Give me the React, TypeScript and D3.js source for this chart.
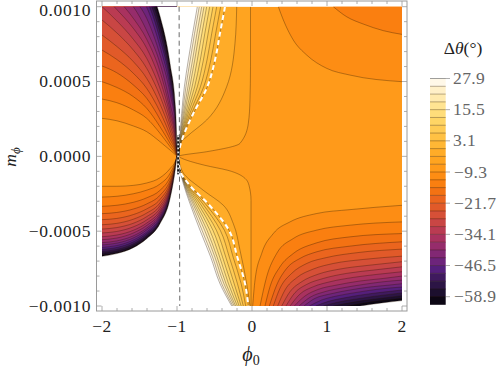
import React from "react";
import * as d3 from "d3";

// Contour levels, highest first (index i). Bands lie between level i and i+1.
const LEVELS = [27.9,24.8,21.7,18.6,15.5,12.4,9.3,6.2,3.1,0,-3.1,-6.2,-9.3,-12.4,-15.5,-18.6,-21.7,-24.8,-27.9,-31,-34.1,-37.2,-40.3,-43.4,-46.5,-49.6,-52.7,-55.8,-58.9,-62];
const BAND_COLORS = ["#fff8e8","#fff0c8","#ffeaae","#ffe492","#ffdd7a","#ffd565","#ffcb54","#ffc144","#ffb735","#ffac28","#ffa420","#ff9a1a","#fd8d14","#fa7f10","#f37213","#eb651e","#e15a29","#d65037","#c94644","#ba3b52","#a9325f","#962c6b","#822874","#6d247b","#551f7c","#3f1a5e","#2c1545","#1c0f2e","#0c0614"];
const LEGEND_LABELS = [27.9,15.5,3.1,-9.3,-21.7,-34.1,-46.5,-58.9];
const X_TICKS = [-2,-1,0,1,2];
const Y_TICKS = [0.001,0.0005,0,-0.0005,-0.001];

// Upper-left fan: m (units 1e-4) at these phi columns, levels -9.3 ... -62
const LEFT_PHI = [-2,-1.804,-1.582,-1.404,-1.227,-1.093,-1.018,-1.0];
const UPPER_LEFT = [
  [2.54,2.38,2.03,1.65,0.98,0.42,0.09,0],
  [3.83,3.59,3.10,2.54,1.54,0.65,0.16,0],
  [4.99,4.61,3.99,3.21,1.98,0.87,0.24,0],
  [6.04,5.59,4.77,3.88,2.47,1.14,0.33,0.02],
  [7.10,6.48,5.55,4.54,2.98,1.43,0.42,0.04],
  [8.11,7.35,6.33,5.21,3.50,1.76,0.53,0.06],
  [9.11,8.26,7.10,5.88,4.03,2.09,0.69,0.08],
  [10.0,9.06,7.82,6.55,4.54,2.43,0.87,0.1],
  [10.85,9.82,8.55,7.22,5.10,2.76,1.05,0.14],
  [11.56,10.56,9.22,7.82,5.67,3.09,1.20,0.18],
  [12.12,11.11,10.0,8.40,6.21,3.50,1.43,0.22],
  [12.7,11.6,10.56,9.22,6.77,4.21,1.80,0.26],
  [13.3,12.2,11.22,9.96,7.33,4.61,2.03,0.3],
  [13.8,12.8,11.78,10.45,7.82,4.99,2.25,0.36],
  [14.3,13.2,12.23,10.85,8.26,5.32,2.47,0.42],
  [14.8,13.7,12.67,11.16,8.66,5.66,2.69,0.48],
  [15.2,14.0,13.0,11.38,9.02,5.88,2.92,0.54],
  [15.6,14.4,13.34,11.56,9.38,6.21,3.10,0.6],
];
// Lower-left fan: |m| (units 1e-4) at the same columns, levels -9.3 ... -62
const LOWER_LEFT = [
  [2.0,2.0,1.94,1.78,1.43,0.82,0.27,0],
  [2.72,2.67,2.50,2.26,1.85,1.14,0.30,0],
  [3.34,3.27,3.07,2.77,2.27,1.40,0.37,0],
  [3.83,3.75,3.52,3.18,2.60,1.61,0.42,0],
  [4.23,4.15,3.89,3.51,2.88,1.78,0.47,0],
  [4.57,4.48,4.20,3.79,3.11,1.92,0.50,0],
  [4.86,4.76,4.47,4.03,3.30,2.04,0.53,0],
  [5.12,5.02,4.71,4.25,3.48,2.15,0.56,0],
  [5.37,5.26,4.94,4.46,3.65,2.26,0.59,0],
  [5.57,5.46,5.12,4.62,3.79,2.34,0.61,0],
  [5.77,5.65,5.31,4.79,3.92,2.42,0.63,0],
  [5.92,5.80,5.45,4.91,4.03,2.49,0.65,0],
  [6.08,5.96,5.59,5.05,4.13,2.55,0.67,0],
  [6.21,6.09,5.71,5.15,4.22,2.61,0.68,0],
  [6.35,6.22,5.84,5.27,4.32,2.67,0.70,0],
  [6.46,6.33,5.94,5.36,4.39,2.71,0.71,0],
  [6.57,6.44,6.04,5.45,4.47,2.76,0.72,0],
  [6.68,6.50,6.10,5.50,4.50,2.83,0.71,0],
];

// Middle wedge, upper half: phi at these m rows, levels 27.9 ... 0
const UPPER_MID_M = [10,8.22,6.44,4.65,2.87,1.54,0.65,0];
const UPPER_MID = [
  [-0.729,-0.791,-0.849,-0.902,-0.938,-0.96,-0.973,-0.982],
  [-0.703,-0.766,-0.824,-0.881,-0.927,-0.956,-0.972,-0.982],
  [-0.671,-0.734,-0.793,-0.854,-0.914,-0.951,-0.971,-0.982],
  [-0.640,-0.704,-0.764,-0.829,-0.901,-0.946,-0.97,-0.982],
  [-0.605,-0.668,-0.729,-0.799,-0.885,-0.94,-0.969,-0.982],
  [-0.564,-0.629,-0.690,-0.765,-0.868,-0.934,-0.967,-0.982],
  [-0.52,-0.585,-0.648,-0.729,-0.85,-0.927,-0.966,-0.982],
  [-0.471,-0.537,-0.60,-0.688,-0.829,-0.919,-0.964,-0.982],
  [-0.418,-0.484,-0.549,-0.644,-0.806,-0.911,-0.962,-0.982],
  [-0.36,-0.427,-0.493,-0.596,-0.782,-0.902,-0.96,-0.982],
];
// Middle wedge, lower half: phi at these m rows, levels 27.9 ... 0
const LOWER_MID_M = [0,-0.94,-1.83,-3.16,-4.94,-6.73,-8.51,-10];
const LOWER_MID = [
  [-0.982,-0.96,-0.916,-0.827,-0.693,-0.551,-0.427,-0.271],
  [-0.982,-0.96,-0.911,-0.810,-0.666,-0.526,-0.404,-0.255],
  [-0.982,-0.96,-0.905,-0.789,-0.632,-0.495,-0.375,-0.236],
  [-0.982,-0.96,-0.9,-0.769,-0.600,-0.466,-0.347,-0.218],
  [-0.982,-0.96,-0.893,-0.746,-0.563,-0.431,-0.314,-0.196],
  [-0.982,-0.96,-0.886,-0.720,-0.521,-0.393,-0.278,-0.172],
  [-0.982,-0.96,-0.878,-0.691,-0.475,-0.350,-0.238,-0.145],
  [-0.982,-0.96,-0.869,-0.659,-0.423,-0.303,-0.194,-0.116],
  [-0.982,-0.96,-0.859,-0.625,-0.368,-0.252,-0.145,-0.084],
  [-0.982,-0.96,-0.849,-0.587,-0.307,-0.196,-0.093,-0.049],
];
// Contours -6.2 and -3.1 in the wedge, [phi, m]
const UP_M62 = [[-0.02,10],[-0.02,5.99],[-0.027,3.76],[-0.049,2.2],[-0.16,0.87],[-0.604,0.31],[-0.96,0.045],[-0.982,0]];
const UP_M31 = [[-0.204,10],[-0.227,7.55],[-0.338,4.65],[-0.604,2.43],[-0.871,1.31],[-0.96,0.87],[-0.982,0]];
const LOW_M62 = [[-0.982,0],[-0.96,-0.07],[-0.627,-0.6],[-0.32,-0.935],[-0.093,-1.47],[-0.04,-1.94],[-0.013,-2.94],[-0.013,-10]];
const LOW_M31 = [[-0.982,0],[-0.924,-1.05],[-0.649,-2.27],[-0.382,-3.27],[-0.249,-4.5],[-0.16,-6.28],[-0.071,-8.51],[-0.027,-10]];

// Right side, upper: levels -9.3 and -12.4, [phi, m]
const UPPER_RIGHT = [
  [[0.351,10],[0.418,9.11],[0.551,7.77],[0.729,6.77],[0.996,5.88],[1.307,5.43],[2,4.99]],
  [[1.084,10],[1.262,9.33],[1.484,8.84],[1.751,8.4],[2,8.15]],
];
// Right side, lower: levels -9.3 ... -62, [phi, m]
const LOWER_RIGHT = [
  [[0.009,-10],[0.04,-8.27],[0.129,-6.49],[0.284,-5.16],[0.507,-4.38],[0.862,-3.82],[1.307,-3.56],[2,-3.27]],
  [[0.107,-10],[0.196,-8.04],[0.329,-6.49],[0.551,-5.49],[0.862,-4.93],[1.307,-4.6],[2,-4.38]],
  [[0.173,-10],[0.24,-8.71],[0.373,-7.38],[0.551,-6.49],[0.862,-5.78],[1.307,-5.38],[2,-5.16]],
  [[0.231,-10],[0.329,-8.6],[0.462,-7.49],[0.64,-6.82],[0.862,-6.38],[1.307,-6],[2,-5.71]],
  [[0.284,-10],[0.373,-8.82],[0.529,-7.82],[0.729,-7.16],[0.996,-6.76],[1.396,-6.44],[2,-6.2]],
  [[0.342,-10],[0.44,-8.93],[0.596,-8.11],[0.818,-7.53],[1.084,-7.16],[1.484,-6.89],[2,-6.67]],
  [[0.396,-10],[0.507,-9.04],[0.662,-8.38],[0.884,-7.87],[1.173,-7.53],[1.573,-7.27],[2,-7.04]],
  [[0.453,-10],[0.573,-9.11],[0.729,-8.56],[0.951,-8.16],[1.262,-7.82],[1.618,-7.6],[2,-7.38]],
  [[0.507,-10],[0.64,-9.2],[0.818,-8.71],[1.04,-8.38],[1.351,-8.09],[1.662,-7.89],[2,-7.71]],
  [[0.564,-10],[0.707,-9.33],[0.884,-8.89],[1.129,-8.6],[1.44,-8.33],[1.751,-8.16],[2,-8]],
  [[0.627,-10],[0.773,-9.42],[0.973,-9.04],[1.218,-8.78],[1.484,-8.56],[1.751,-8.38],[2,-8.27]],
  [[0.693,-10],[0.84,-9.49],[1.04,-9.2],[1.307,-8.93],[1.573,-8.73],[1.796,-8.62],[2,-8.51]],
  [[0.764,-10],[0.929,-9.6],[1.129,-9.33],[1.396,-9.09],[1.662,-8.89],[2,-8.73]],
  [[0.849,-10],[1.018,-9.69],[1.218,-9.47],[1.484,-9.24],[1.751,-9.07],[2,-8.93]],
  [[0.951,-10],[1.129,-9.76],[1.351,-9.56],[1.618,-9.36],[2,-9.13]],
  [[1.084,-10],[1.262,-9.82],[1.484,-9.64],[1.751,-9.47],[2,-9.31]],
  [[1.262,-10],[1.484,-9.8],[1.751,-9.62],[2,-9.49]],
  [[1.44,-10],[1.751,-9.78],[2,-9.64]],
];

const W = 498, H = 367;
const x = d3.scaleLinear().domain([-2, 2]).range([102, 402]);
const y = d3.scaleLinear().domain([-10, 10]).range([306, 6.7]);
const legendY = d3.scaleLinear().domain([27.9, -58.9]).range([78.5, 296.7]);
const FRAME = { l: 96.5, r: 407, t: 1, b: 311 };
const LINE = "rgba(40,20,0,0.42)";
const SERIF = "'Liberation Serif', serif";
const fmtY = (v: number) => (v < 0 ? "\u2212" : "") + Math.abs(v).toFixed(4);
const fmtN = (v: number) => (v < 0 ? "\u2212" : "") + Math.abs(v).toString();
const fillFor = (i: number) => (i < 0 ? "#ffffff" : i >= BAND_COLORS.length ? "#ffffff" : BAND_COLORS[i]);
const IDX = (v: number) => LEVELS.indexOf(v);

type P = number[];
const lineX = d3.line<P>().x(d => x(d[0])).y(d => y(d[1])).curve(d3.curveMonotoneX);
const lineY = d3.line<P>().x(d => x(d[0])).y(d => y(d[1])).curve(d3.curveMonotoneY);
const areaTo = (edge: number) => d3.area<P>().x(d => x(d[0])).y0(d => y(d[1])).y1(y(edge)).curve(d3.curveMonotoneX);
const areaLeft = d3.area<P>().y(d => y(d[1])).x0(x(-1)).x1(d => x(d[0])).curve(d3.curveMonotoneY);

function Band({ fill, area, line }: { fill: string; area: string; line: string }) {
  return (
    <g>
      <path d={area} fill={fill} />
      <path d={line} fill="none" stroke={LINE} strokeWidth={0.8} />
    </g>
  );
}

export default function App() {
  const xMinor = d3.range(-2, 2.001, 0.2);
  const yMinor = d3.range(-10, 10.001, 1);
  const leftLevels = LEVELS.slice(IDX(-9.3));
  const wedgeUp = UPPER_MID.map(r => r.map((p, i) => [p, UPPER_MID_M[i]]));
  const wedgeLow = LOWER_MID.map(r => r.map((p, i) => [p, LOWER_MID_M[i]]));
  const midLevels = LEVELS.slice(0, IDX(0) + 1);
  const bands: React.ReactNode[] = [];

  leftLevels.forEach((lv, k) => {
    const i = IDX(lv);
    const up = LEFT_PHI.map((p, j) => [p, UPPER_LEFT[k][j]]);
    const low = LEFT_PHI.map((p, j) => [p, -LOWER_LEFT[k][j]]);
    bands.push(<Band key={"ul" + k} fill={fillFor(i)} area={areaTo(11)(up)!} line={lineX(up)!} />);
    bands.push(<Band key={"ll" + k} fill={fillFor(i)} area={areaTo(-11)(low)!} line={lineX(low)!} />);
    bands.push(<Band key={"lr" + k} fill={fillFor(i)} area={areaTo(-11)(LOWER_RIGHT[k])!} line={lineX(LOWER_RIGHT[k])!} />);
  });
  UPPER_RIGHT.forEach((c, k) => {
    bands.push(<Band key={"ur" + k} fill={fillFor(IDX(-9.3) + k)} area={areaTo(11)(c)!} line={lineX(c)!} />);
  });
  ([[-6.2, UP_M62, LOW_M62], [-3.1, UP_M31, LOW_M31]] as [number, P[], P[]][]).forEach(([lv, u, l]) => {
    const i = IDX(lv) - 1;
    bands.push(<Band key={"wu" + lv} fill={fillFor(i)} area={areaLeft(u)!} line={lineY(u)!} />);
    bands.push(<Band key={"wl" + lv} fill={fillFor(i)} area={areaLeft(l)!} line={lineY(l)!} />);
  });
  midLevels.slice().reverse().forEach(lv => {
    const i = IDX(lv);
    const u = wedgeUp[i], l = wedgeLow[i];
    bands.push(<Band key={"mu" + lv} fill={fillFor(i - 1)} area={areaLeft(u)!} line={lineY(u)!} />);
    bands.push(<Band key={"ml" + lv} fill={fillFor(i - 1)} area={areaLeft(l)!} line={lineY(l)!} />);
  });

  return (
    <svg width={W} height={H} style={{ position: "absolute", left: 0, top: 0 }} fontFamily={SERIF}>
      <defs>
        <clipPath id="plot"><rect x={x(-2)} y={y(10)} width={x(2) - x(-2)} height={y(-10) - y(10)} /></clipPath>
      </defs>
      <g clipPath="url(#plot)">
        <rect x={x(-2)} y={y(10)} width={x(2) - x(-2)} height={y(-10) - y(10)} fill={fillFor(IDX(-6.2))} />
        {bands}
        <path d={lineY(wedgeUp[IDX(0)])!} fill="none" stroke="#fff" strokeWidth={2} strokeDasharray="5 3.5" />
        <path d={lineY(wedgeLow[IDX(0)])!} fill="none" stroke="#fff" strokeWidth={2} strokeDasharray="5 3.5" />
      </g>
      <line x1={x(-0.972)} x2={x(-0.963)} y1={y(10)} y2={y(-10)} stroke="#444" strokeWidth={0.8} strokeDasharray="5 3.5" />
      <line x1={x(-0.985)} x2={x(-0.985)} y1={y(1.4)} y2={y(-1.2)} stroke="#111" strokeWidth={2} />
      <line x1={x(-0.985)} x2={x(-0.985)} y1={y(1.4)} y2={y(-1.2)} stroke="#fff" strokeWidth={1.5} strokeDasharray="1.8 2.2" />

      <rect x={FRAME.l} y={FRAME.t} width={FRAME.r - FRAME.l} height={FRAME.b - FRAME.t} fill="none" stroke="#9a9a9a" strokeWidth={1} />
      {xMinor.map((v, i) => {
        const len = i % 5 === 0 ? 5 : 3;
        return (
          <g key={"xt" + i} stroke="#9a9a9a" strokeWidth={0.8}>
            <line x1={x(v)} x2={x(v)} y1={FRAME.b} y2={FRAME.b - len} />
            <line x1={x(v)} x2={x(v)} y1={FRAME.t} y2={FRAME.t + len} />
          </g>
        );
      })}
      {yMinor.map((v, i) => {
        const len = i % 5 === 0 ? 5 : 3;
        return (
          <g key={"yt" + i} stroke="#9a9a9a" strokeWidth={0.8}>
            <line x1={FRAME.l} x2={FRAME.l + len} y1={y(v)} y2={y(v)} />
            <line x1={FRAME.r} x2={FRAME.r - len} y1={y(v)} y2={y(v)} />
          </g>
        );
      })}
      {X_TICKS.map(v => (
        <text key={v} x={x(v)} y={332} textAnchor="middle" fontSize={17.5} letterSpacing={0.4} fill="#222">{fmtN(v)}</text>
      ))}
      {Y_TICKS.map(v => (
        <text key={v} x={91} y={v === 0.001 ? 15.8 : y(v * 1e4) + 5.7} textAnchor="end" fontSize={17.5} letterSpacing={0.6} fill="#222">{fmtY(v)}</text>
      ))}
      <text transform="translate(16,157) rotate(-90)" textAnchor="middle" fontSize={17.5} fill="#222">
        <tspan fontStyle="italic">m</tspan><tspan fontSize={13} dy={4} fontStyle="italic">{"\u03D5"}</tspan>
      </text>
      <text x={251} y={361} textAnchor="middle" fontSize={20} fill="#222">
        <tspan fontStyle="italic">{"\u03D5"}</tspan><tspan fontSize={14} dy={4}>0</tspan>
      </text>

      <text x={463} y={54} textAnchor="middle" fontSize={17.5} fill="#222">
        {"\u0394"}<tspan fontStyle="italic">{"\u03B8"}</tspan>(°)
      </text>
      {BAND_COLORS.map((c, i) => (
        <rect key={i} x={430} width={15.7} y={legendY(LEVELS[i])} height={legendY(LEVELS[i + 1]) - legendY(LEVELS[i]) + 0.3} fill={c} />
      ))}
      {LEVELS.slice(0, 29).map((v, i) => (
        <line key={i} x1={430} x2={445.7} y1={legendY(v)} y2={legendY(v)} stroke={LINE} strokeWidth={0.8} />
      ))}
      {LEGEND_LABELS.map(v => (
        <g key={v}>
          <line x1={v === 27.9 ? 430 : 445.7} x2={450} y1={legendY(v)} y2={legendY(v)} stroke="#999" strokeWidth={0.8} />
          <text x={v < 0 ? 454 : 453} y={legendY(v) + 5.5} fontSize={17.5} letterSpacing={0.4} fill="#666">{fmtN(v)}</text>
        </g>
      ))}
    </svg>
  );
}
